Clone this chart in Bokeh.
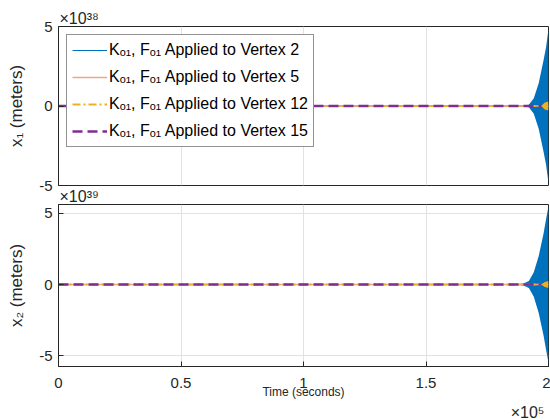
from bokeh.plotting import figure
from bokeh.models import Range1d, FixedTicker, Legend, LegendItem, Title
from bokeh.layouts import column
from bokeh.embed import file_html
from bokeh.resources import INLINE
import numpy as np

# ---------------- data ----------------
# time axis (seconds)
time_ticks = [0, 50000, 100000, 150000, 200000]
time_tick_labels = ["0", "0.5", "1", "1.5", "2"]

# near-zero portions of every trace (values in units of the axis exponent)
t_flat = [0, 50000, 100000, 150000, 200000]
x1_flat_v2 = [0, 0, 0, 0, 0]
x1_flat_v5 = [0, 0, 0, 0, 0]
x1_flat_v12 = [0, 0, 0, 0, 0]
x1_flat_v15 = [0, 0, 0, 0, 0]
x2_flat_v2 = [0, 0, 0, 0, 0]
x2_flat_v5 = [0, 0, 0, 0, 0]
x2_flat_v12 = [0, 0, 0, 0, 0]
x2_flat_v15 = [0, 0, 0, 0, 0]

# growing oscillation envelope of vertex 2 (x1 in 1e38 m, x2 in 1e39 m)
t_env = [186500, 190000, 192000, 194000, 196000, 198000, 199000, 200000]
x1_env_v2 = [0.0, 0.03, 0.08, 0.48, 1.43, 2.9, 3.7, 4.85]
x2_env_v2 = [0.0, 0.08, 0.25, 0.87, 2.0, 3.6, 4.6, 5.5]

# small growth of vertex 12 at the very end
t_env12 = [197000, 198500, 200000]
x1_env_v12 = [0.0, 0.22, 0.28]
x2_env_v12 = [0.0, 0.18, 0.24]

y1_ticks = [-5, 0, 5]
y2_ticks = [-5, 0, 5]

labels = ["K\u2092\u2081, F\u2092\u2081 Applied to Vertex 2",
          "K\u2092\u2081, F\u2092\u2081 Applied to Vertex 5",
          "K\u2092\u2081, F\u2092\u2081 Applied to Vertex 12",
          "K\u2092\u2081, F\u2092\u2081 Applied to Vertex 15"]

exp_x1 = "\u00d710\u00b3\u2078"
exp_x2 = "\u00d710\u00b3\u2079"
exp_t = "\u00d710\u2075"

# ---------------- style ----------------
BLUE = "#0072BD"
ORANGE = "#EBA888"
YELLOW = "#EDB120"
PURPLE = "#7E2F8E"
AX = "#262626"
GRID = "#e2e2e2"
FONT = "Liberation Sans"


def style(p, yticks):
    p.outline_line_color = AX
    p.outline_line_width = 1
    p.outline_line_alpha = 1
    for ax in (p.xaxis[0], p.yaxis[0]):
        ax.axis_line_color = AX
        ax.major_tick_line_color = AX
        ax.major_tick_in = 5
        ax.major_tick_out = 0
        ax.minor_tick_line_color = None
        ax.major_label_text_font = FONT
        ax.major_label_text_font_size = "15px"
        ax.major_label_text_color = "#262626"
        ax.axis_label_text_font = FONT
        ax.axis_label_text_font_style = "normal"
        ax.axis_label_text_font_size = "17px"
        ax.axis_label_text_color = "#262626"
    p.xaxis[0].ticker = FixedTicker(ticks=time_ticks)
    p.xaxis[0].major_label_overrides = dict(zip(time_ticks, time_tick_labels))
    p.yaxis[0].ticker = FixedTicker(ticks=yticks)
    p.yaxis[0].major_label_overrides = {t: str(t) for t in yticks}
    p.yaxis[0].major_label_standoff = 6
    p.yaxis[0].axis_label_standoff = 10
    p.xgrid.ticker = FixedTicker(ticks=time_ticks)
    p.ygrid.ticker = FixedTicker(ticks=yticks)
    p.xgrid.grid_line_color = GRID
    p.ygrid.grid_line_color = GRID
    p.background_fill_color = "white"
    p.border_fill_color = "white"


def draw(p, flat, env2, env12):
    r2 = p.line(t_flat, flat[0], color=BLUE, line_width=1.2)
    p.varea(x=t_env, y1=-np.array(env2), y2=np.array(env2), color=BLUE)
    r5 = p.line(t_flat, flat[1], color=ORANGE, line_width=1.3)
    r12 = p.line(t_flat, flat[2], color=YELLOW, line_width=2.2, line_dash="8 3 2 3")
    r15 = p.line(t_flat, flat[3], color=PURPLE, line_width=2.4, line_dash="10 5")
    p.varea(x=t_env12, y1=-np.array(env12), y2=np.array(env12), color=YELLOW)
    return [r2, r5, r12, r15]


def exp_title(text, align, place_offset=0, standoff=1):
    return Title(text=text, align=align, offset=place_offset, standoff=standoff,
                 text_font=FONT, text_font_size="16px", text_font_style="normal",
                 text_color="#262626")


# ---------------- top plot ----------------
p1 = figure(frame_width=490, frame_height=159, output_backend="svg", toolbar_location=None,
            x_range=Range1d(0, 200000), y_range=Range1d(-5, 5),
            min_border_left=58, min_border_right=2, min_border_top=26, min_border_bottom=19)
style(p1, y1_ticks)
p1.xaxis[0].visible = False
p1.yaxis[0].axis_label = "x\u2081 (meters)"
p1.add_layout(exp_title(exp_x1, "left", 1, 0), "above")
# exponent of the lower panel sits in the gap between the two panels
p1.add_layout(exp_title(exp_x2, "left", 1, 0), "below")
r_top = draw(p1, [x1_flat_v2, x1_flat_v5, x1_flat_v12, x1_flat_v15], x1_env_v2, x1_env_v12)

legend = Legend(items=[LegendItem(label=l, renderers=[r]) for l, r in zip(labels, r_top)],
                location="top_left")
legend.label_text_font = FONT
legend.label_text_font_size = "16px"
legend.label_text_color = "#000000"
legend.glyph_width = 35
legend.glyph_height = 20
legend.label_height = 20
legend.spacing = 7
legend.padding = 5
legend.margin = 8
legend.label_standoff = 2
legend.border_line_color = AX
legend.border_line_width = 1
legend.background_fill_alpha = 1
p1.add_layout(legend)

# ---------------- bottom plot ----------------
p2 = figure(frame_width=490, frame_height=162, output_backend="svg", toolbar_location=None,
            x_range=Range1d(0, 200000), y_range=Range1d(-5.77, 5.63),
            min_border_left=58, min_border_right=2, min_border_top=0, min_border_bottom=0)
style(p2, y2_ticks)
p2.xaxis[0].major_label_standoff = 11
p2.xaxis[0].axis_label = "Time (seconds)"
p2.xaxis[0].axis_label_text_font_size = "12px"
p2.xaxis[0].axis_label_standoff = -6
p2.yaxis[0].axis_label = "x\u2082 (meters)"
p2.add_layout(exp_title(exp_t, "right", 4, 0), "below")
draw(p2, [x2_flat_v2, x2_flat_v5, x2_flat_v12, x2_flat_v15], x2_env_v2, x2_env_v12)

layout = column(p1, p2, spacing=0)
open("out.html", "w").write(file_html(layout, INLINE))
